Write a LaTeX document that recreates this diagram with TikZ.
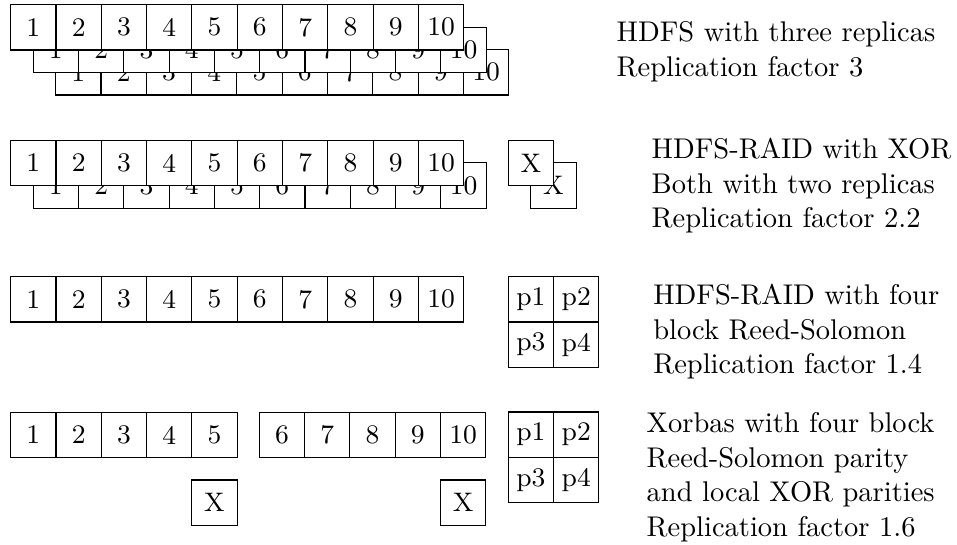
\documentclass[tikz,border=0pt]{standalone}
\begin{document}
\begin{tikzpicture}[x=0.3509pt,y=-0.3509pt,
  cell/.style={draw, fill=white, minimum size=15.9pt, inner sep=0pt, outer sep=0pt,
    anchor=north west, font=\fontsize{9.4}{11}\selectfont},
  lbl/.style={anchor=base west, align=left, inner sep=0pt, outer sep=0pt,
    font=\fontsize{10}{12.1}\selectfont}]
\useasboundingbox (0,0) rectangle (957,544);
% Row 1: HDFS three replicas (back to front)
\foreach \i in {1,...,10} \node[cell] (ac\i) at ({55.7+(\i-1)*45.3},49.7) {\i};
\foreach \i in {1,...,10} \node[cell] (ab\i) at ({33.2+(\i-1)*45.3},27.2) {\i};
\foreach \i in {1,...,10} \node[cell] (aa\i) at ({10.7+(\i-1)*45.3},4.7) {\i};
% Row 2: HDFS-RAID with XOR
\foreach \i in {1,...,10} \node[cell] (bb\i) at ({33.2+(\i-1)*45.3},162.8) {\i};
\foreach \i in {1,...,10} \node[cell] (ba\i) at ({10.7+(\i-1)*45.3},140.3) {\i};
\node[cell] (bxb) at (530.8,162.8) {X};
\node[cell] (bxa) at (508.3,140.3) {X};
% Row 3: HDFS-RAID Reed-Solomon
\foreach \i in {1,...,10} \node[cell] (c\i) at ({10.7+(\i-1)*45.3},276.7) {\i};
\node[cell] (cp1) at (508.3,276.7) {p1};
\node[cell] (cp2) at (553.6,276.7) {p2};
\node[cell] (cp3) at (508.3,322.0) {p3};
\node[cell] (cp4) at (553.6,322.0) {p4};
% Row 4: Xorbas
\foreach \i in {1,...,5} \node[cell] (d\i) at ({10.7+(\i-1)*45.3},412.3) {\i};
\foreach \i in {6,...,10} \node[cell] (d\i) at ({259.3+(\i-6)*45.3},412.3) {\i};
\node[cell] (dxa) at (191.9,480) {X};
\node[cell] (dxb) at (440.5,480) {X};
\node[cell] (dp1) at (508.3,412.0) {p1};
\node[cell] (dp2) at (553.6,412.0) {p2};
\node[cell] (dp3) at (508.3,457.3) {p3};
\node[cell] (dp4) at (553.6,457.3) {p4};
% Labels (base anchor = baseline of last line)
\node[lbl] (l1) at (616.7,76) {HDFS with three replicas\\Replication factor 3};
\node[lbl] (l2) at (651.7,227.7) {HDFS-RAID with XOR\\Both with two replicas\\Replication factor 2.2};
\node[lbl] (l3) at (653.3,373.7) {HDFS-RAID with four\\block Reed-Solomon\\Replication factor 1.4};
\node[lbl] (l4) at (646.7,536) {Xorbas with four block\\Reed-Solomon parity\\and local XOR parities\\Replication factor 1.6};
\end{tikzpicture}
\end{document}
